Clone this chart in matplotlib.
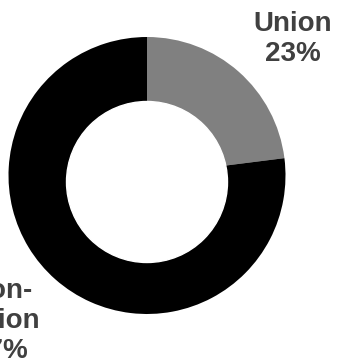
import matplotlib.pyplot as plt

# Data
labels = ['Union', 'Non-\nUnion']
shares = [23, 77]
colors = ['#808080', '#000000']

W, H = 337, 364
fig = plt.figure(figsize=(W / 100, H / 100), dpi=100)
ax = fig.add_axes([0, 0, 1, 1])

# pie in pixel units, white circle on top makes the hole
ax.pie(shares, colors=colors, startangle=90, counterclock=False,
       center=(147, H - 175.5), radius=138.5, frame=True)
ax.add_patch(plt.Circle((147, H - 182), 80.5, color='white', zorder=5))
ax.set_xlim(0, W)
ax.set_ylim(0, H)
ax.set_aspect('equal')
ax.axis('off')

# labels: (x, baseline of last line)
label_pos = [(292.5, H - 61), (0.5, H - 358)]
for lab, val, (x, y) in zip(labels, shares, label_pos):
    ax.text(x, y, f'{lab}\n{val}%', ha='center', va='baseline',
            multialignment='center', fontsize=20, fontweight='bold',
            family='Liberation Sans', color='#404040', zorder=6)

fig.savefig('out.png', dpi=100)
